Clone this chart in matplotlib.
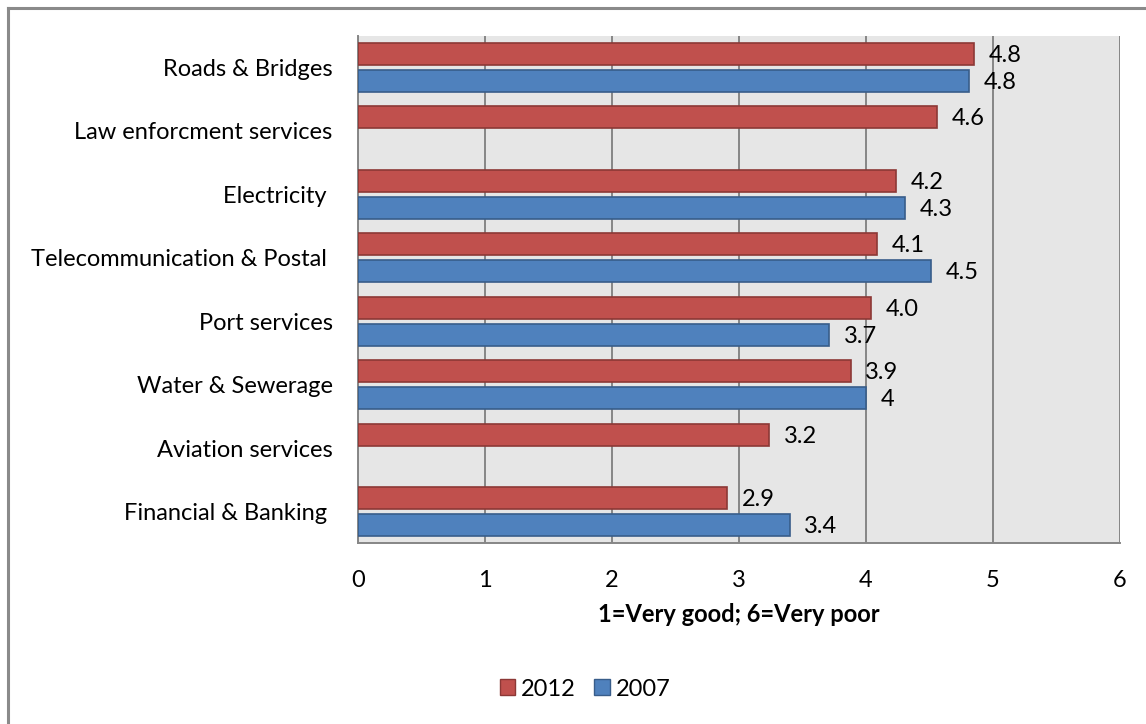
import matplotlib

matplotlib.use("Agg")
import matplotlib.pyplot as plt
import numpy as np
from matplotlib.lines import Line2D
from matplotlib.patches import Patch

categories = [
    "Roads & Bridges",
    "Law enforcment services",
    "Electricity ",
    "Telecommunication & Postal ",
    "Port services",
    "Water & Sewerage",
    "Aviation services",
    "Financial & Banking ",
]
values_2012 = [4.85, 4.56, 4.24, 4.09, 4.04, 3.88, 3.24, 2.91]
values_2007 = [4.81, np.nan, 4.31, 4.51, 3.71, 4.00, np.nan, 3.40]
labels_2012 = ["4.8", "4.6", "4.2", "4.1", "4.0", "3.9", "3.2", "2.9"]
labels_2007 = ["4.8", "", "4.3", "4.5", "3.7", "4", "", "3.4"]
xticks = [0, 1, 2, 3, 4, 5, 6]

plt.rcParams["font.family"] = ["Lato", "DejaVu Sans"]
FS = 17

W, H = 1146, 724
fig = plt.figure(figsize=(W / 100, H / 100), dpi=100)
ax = fig.add_axes([357.7 / W, 1 - 543.3 / H, (1120 - 357.7) / W, (543.3 - 35.7) / H])
ax.set_facecolor("#e6e6e6")

y = np.arange(len(categories))
off = 0.2125
h = 0.347
red, red_edge = "#c0504d", "#8c3836"
blue, blue_edge = "#4f81bd", "#385d8a"

bars_r = ax.barh(y - off, values_2012, height=h, color=red, edgecolor=red_edge, linewidth=1.2, zorder=3)
bars_b = ax.barh(y + off, values_2007, height=h, color=blue, edgecolor=blue_edge, linewidth=1.2, zorder=3)

for bar, txt in zip(bars_r, labels_2012):
    ax.annotate(txt, (bar.get_width(), bar.get_y() + bar.get_height() / 2), xytext=(10.5, -1),
                textcoords="offset points", ha="left", va="center", fontsize=FS)
for bar, txt in zip(bars_b, labels_2007):
    if txt:
        ax.annotate(txt, (bar.get_width(), bar.get_y() + bar.get_height() / 2), xytext=(10.5, -1),
                    textcoords="offset points", ha="left", va="center", fontsize=FS)

ax.set_xlim(0, 6)
ax.set_ylim(len(categories) - 0.5, -0.5)
ax.set_xticks(xticks)
ax.set_yticks(y, categories)
ax.tick_params(axis="both", length=0, labelsize=FS)
ax.tick_params(axis="x", pad=19)
ax.tick_params(axis="y", pad=18)
ax.grid(axis="x", color="#868686", linewidth=1.4, zorder=1)
ax.set_axisbelow(True)
for side in ["top", "right"]:
    ax.spines[side].set_visible(False)
for side in ["left", "bottom"]:
    ax.spines[side].set_color("#868686")
    ax.spines[side].set_linewidth(1.4)

ax.set_xlabel("1=Very good; 6=Very poor", fontsize=FS, fontweight="bold", labelpad=9)

handles = [Patch(facecolor=red, edgecolor=red_edge, label="2012"),
           Patch(facecolor=blue, edgecolor=blue_edge, label="2007")]
fig.legend(handles=handles, loc="center", bbox_to_anchor=(585 / W, 1 - 689 / H), ncol=2, frameon=False,
           fontsize=FS, handlelength=0.65, handleheight=0.65, handletextpad=0.25, columnspacing=0.8)

fig.add_artist(Line2D([8 / W, 1], [1 - 7.5 / H, 1 - 7.5 / H], color="#8a8a8a", linewidth=2.2))
fig.add_artist(Line2D([8 / W, 8 / W], [0, 1 - 7.5 / H], color="#8a8a8a", linewidth=2.2))

fig.savefig("out.png", dpi=100)
